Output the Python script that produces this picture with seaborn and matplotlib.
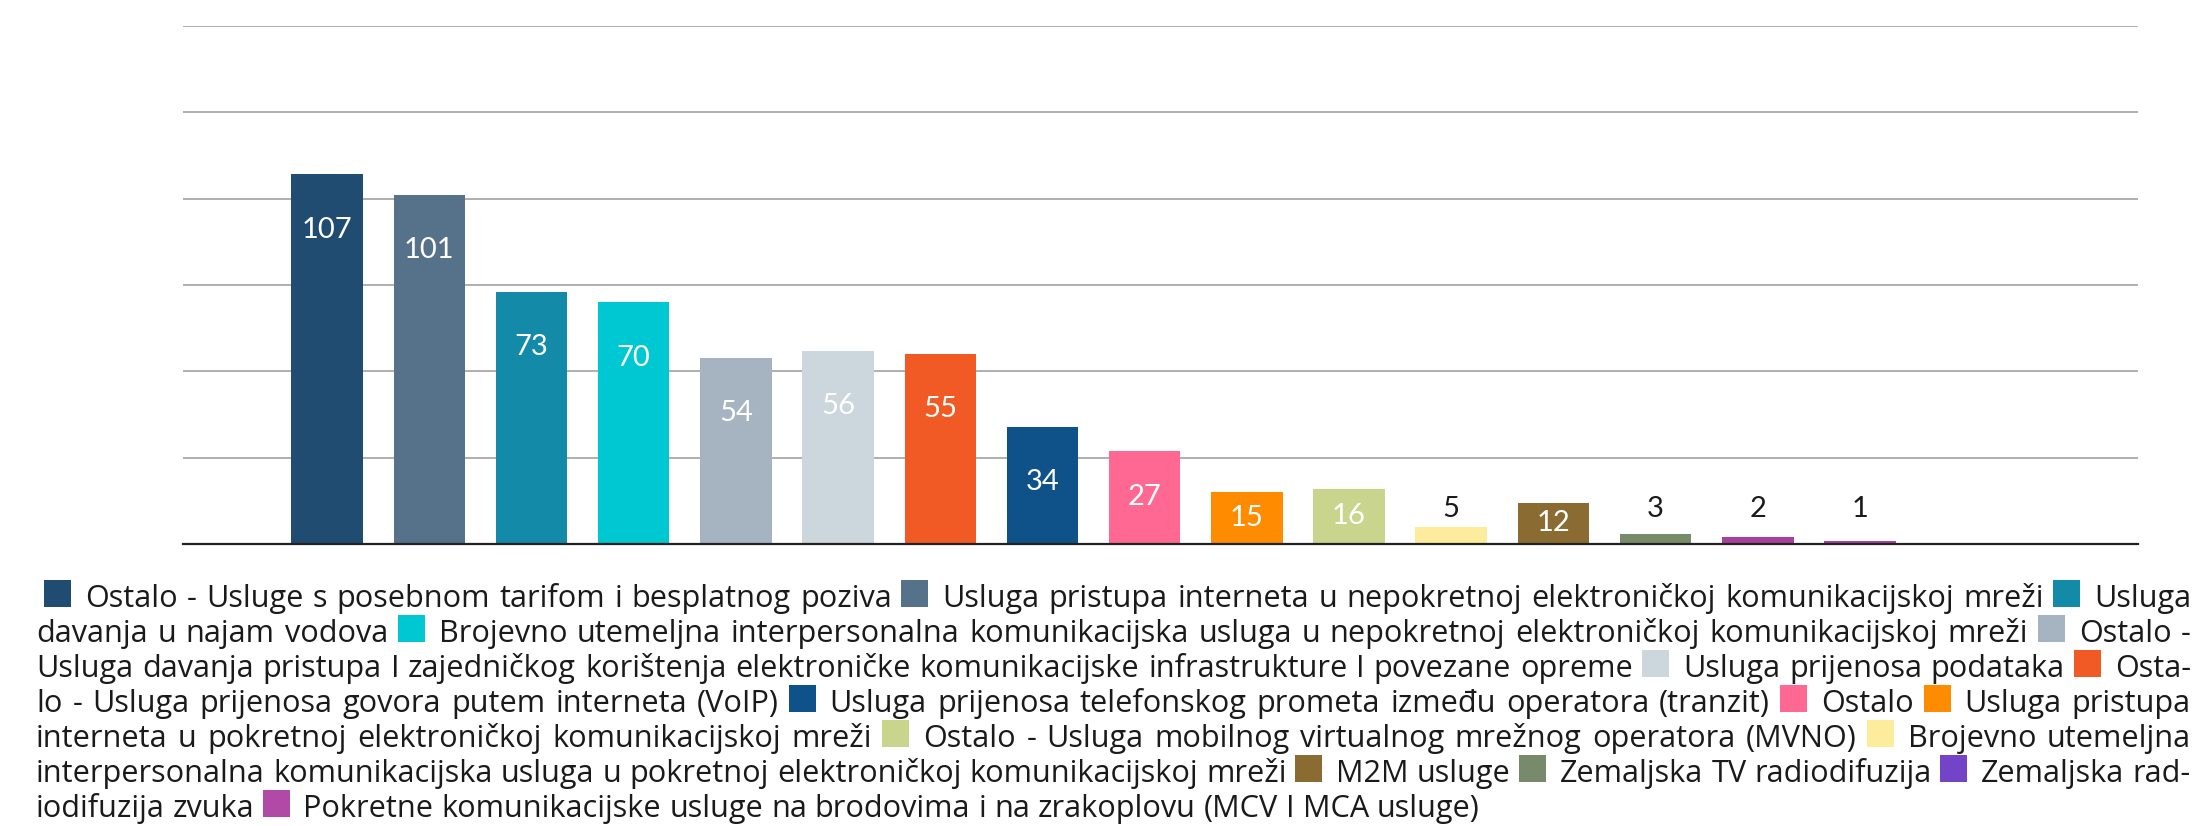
import matplotlib
matplotlib.use('Agg')
import matplotlib.pyplot as plt
import seaborn as sns
import pandas as pd
from matplotlib.font_manager import FontProperties
from matplotlib.patches import Rectangle

# Data
categories = [
    'Ostalo - Usluge s posebnom tarifom i besplatnog poziva',
    'Usluga pristupa interneta u nepokretnoj elektroničkoj komunikacijskoj mreži',
    'Usluga davanja u najam vodova',
    'Brojevno utemeljna interpersonalna komunikacijska usluga u nepokretnoj elektroničkoj komunikacijskoj mreži',
    'Ostalo - Usluga davanja pristupa I zajedničkog korištenja elektroničke komunikacijske infrastrukture I povezane opreme',
    'Usluga prijenosa podataka',
    'Ostalo - Usluga prijenosa govora putem interneta (VoIP)',
    'Usluga prijenosa telefonskog prometa između operatora (tranzit)',
    'Ostalo',
    'Usluga pristupa interneta u pokretnoj elektroničkoj komunikacijskoj mreži',
    'Ostalo - Usluga mobilnog virtualnog mrežnog operatora (MVNO)',
    'Brojevno utemeljna interpersonalna komunikacijska usluga u pokretnoj elektroničkoj komunikacijskoj mreži',
    'M2M usluge',
    'Zemaljska TV radiodifuzija',
    'Zemaljska radiodifuzija zvuka',
    'Pokretne komunikacijske usluge na brodovima i na zrakoplovu (MCV I MCA usluge)',
]
values = [107, 101, 73, 70, 54, 56, 55, 34, 27, 15, 16, 5, 12, 3, 2, 1]
legend_colors = ['#204C72', '#56718A', '#128AA8', '#00C8D3', '#A6B4C1', '#CBD6DD',
                 '#F15A24', '#0F5189', '#FF6892', '#FF8C00', '#C9D48C', '#FCEC9C',
                 '#8A6C33', '#778A6A', '#7444C8', '#B04AA6']
# in the original the "zvuka" bar is drawn in magenta, not the legend violet
bar_colors = legend_colors[:14] + ['#A8409E', '#A8409E']

W, H = 2203, 826
fig = plt.figure(figsize=(W / 100, H / 100), dpi=100)
ax = fig.add_axes([183 / W, 1 - 544 / H, (2138 - 183) / W, (544 - 26) / H])

df = pd.DataFrame({'kategorija': categories, 'broj': values})
sns.barplot(data=df, x='kategorija', y='broj', hue='kategorija',
            palette=dict(zip(categories, bar_colors)), width=0.7,
            saturation=1, legend=False, ax=ax)

ax.set_xlim(-1.41, 17.72)
ax.set_ylim(0, 150)
ax.set_yticks(range(0, 151, 25))
ax.yaxis.grid(True, color='#9a9a9a', linewidth=1.1)
ax.set_axisbelow(True)
ax.tick_params(left=False, bottom=False, labelleft=False, labelbottom=False)
for side in ['top', 'right', 'left']:
    ax.spines[side].set_visible(False)
ax.spines['bottom'].set_color('#222222')
ax.spines['bottom'].set_linewidth(1.6)
ax.set_xlabel('')
ax.set_ylabel('')

# value labels: white inside the bar, black above the tiny ones
for i, v in enumerate(values):
    if v > 5:
        ax.text(i, max(v - 16, v / 2), str(v), ha='center', va='center',
                color='white', fontsize=21, family='Lato')
    else:
        ax.text(i, 10, str(v), ha='center', va='center',
                color='#1a1a1a', fontsize=21, family='Lato')

# legend as a justified paragraph with coloured squares
renderer = fig.canvas.get_renderer()
fp = FontProperties(family='Open Sans', size=22.1)


def tw(s):
    return renderer.get_text_width_height_descent(s, fp, ismath=False)[0]


space = tw('a a') - tw('aa')
box = 27
box_gap = 14
x_left, x_right = 36, 2191
avail = x_right - x_left

tokens = []
for name, col in zip(categories, legend_colors):
    tokens.append(dict(kind='box', color=col, w=box, gap=space, brk=True))
    for j, word in enumerate(name.split(' ')):
        tokens.append(dict(kind='word', text=word, w=tw(word),
                           gap=box_gap if j == 0 else space, brk=j != 0))


def natural(line):
    return sum(t['w'] for t in line) + sum(t['gap'] for t in line[1:])


lines = [[]]
queue = list(tokens)
while queue:
    t = queue.pop(0)
    line = lines[-1]
    limit = avail - (8 if len(lines) == 1 else 0)
    if not line or natural(line + [t]) <= limit:
        line.append(t)
        continue
    if t['kind'] == 'word' and len(t['text']) >= 5:
        word = t['text']
        split = None
        for k in range(len(word) - 2, 1, -1):
            head = word[:k] + '-'
            if natural(line + [dict(t, w=tw(head))]) <= limit:
                split = k
                break
        if split:
            line.append(dict(t, text=word[:split] + '-', w=tw(word[:split] + '-')))
            rest = word[split:]
            queue.insert(0, dict(t, text=rest, w=tw(rest), gap=space, brk=True))
            lines.append([])
            continue
    if not t['brk'] and line[-1]['kind'] == 'box':
        b = line.pop()
        lines.append([b, t])
    else:
        lines.append([t])

for li, line in enumerate(lines):
    base = 607 + 35 * li
    x = x_left + (8 if li == 0 else 0)
    stretch = [k for k in range(1, len(line)) if line[k]['brk']]
    extra = 0
    if li < len(lines) - 1 and stretch:
        extra = (x_right - x - natural(line)) / len(stretch)
    for k, t in enumerate(line):
        if k > 0:
            x += t['gap'] + (extra if t['brk'] else 0)
        if t['kind'] == 'box':
            fig.add_artist(Rectangle((x / W, 1 - base / H), box / W, box / H,
                                     transform=fig.transFigure,
                                     facecolor=t['color'], edgecolor='none'))
        else:
            fig.text(x / W, 1 - base / H, t['text'], fontproperties=fp,
                     ha='left', va='baseline', color='#1a1a1a')
        x += t['w']

fig.savefig('out.png', dpi=100)
